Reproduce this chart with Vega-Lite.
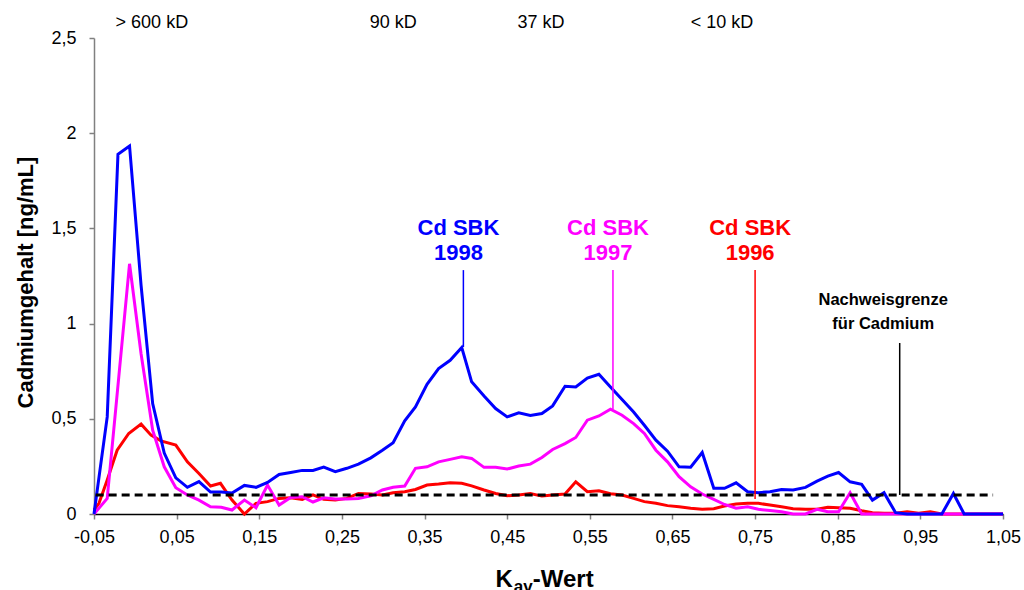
{
  "$schema": "https://vega.github.io/schema/vega-lite/v6.json",
  "width": 909,
  "height": 476,
  "autosize": {"type": "none"},
  "padding": {"left": 94, "top": 38, "right": 21, "bottom": 76},
  "background": "white",
  "config": {
    "view": {"stroke": null},
    "font": "Liberation Sans",
    "text": {"font": "Liberation Sans"}
  },
  "datasets": {
    "series": [
      {"k": -0.05, "v": 0.021, "s": "1996"}, {"k": -0.044, "v": 0.056, "s": "1996"}, {"k": -0.034, "v": 0.178, "s": "1996"}, {"k": -0.022, "v": 0.335, "s": "1996"}, {"k": -0.008, "v": 0.423, "s": "1996"}, {"k": 0.007, "v": 0.472, "s": "1996"}, {"k": 0.019, "v": 0.414, "s": "1996"}, {"k": 0.031, "v": 0.384, "s": "1996"}, {"k": 0.049, "v": 0.362, "s": "1996"}, {"k": 0.063, "v": 0.274, "s": "1996"}, {"k": 0.077, "v": 0.213, "s": "1996"}, {"k": 0.091, "v": 0.147, "s": "1996"}, {"k": 0.103, "v": 0.161, "s": "1996"}, {"k": 0.117, "v": 0.073, "s": "1996"}, {"k": 0.132, "v": 0, "s": "1996"}, {"k": 0.146, "v": 0.056, "s": "1996"}, {"k": 0.16, "v": 0.065, "s": "1996"}, {"k": 0.174, "v": 0.082, "s": "1996"}, {"k": 0.188, "v": 0.085, "s": "1996"}, {"k": 0.202, "v": 0.077, "s": "1996"}, {"k": 0.215, "v": 0.1, "s": "1996"}, {"k": 0.228, "v": 0.077, "s": "1996"}, {"k": 0.242, "v": 0.073, "s": "1996"}, {"k": 0.256, "v": 0.082, "s": "1996"}, {"k": 0.27, "v": 0.108, "s": "1996"}, {"k": 0.285, "v": 0.105, "s": "1996"}, {"k": 0.299, "v": 0.1, "s": "1996"}, {"k": 0.312, "v": 0.112, "s": "1996"}, {"k": 0.326, "v": 0.117, "s": "1996"}, {"k": 0.339, "v": 0.129, "s": "1996"}, {"k": 0.353, "v": 0.152, "s": "1996"}, {"k": 0.367, "v": 0.157, "s": "1996"}, {"k": 0.381, "v": 0.164, "s": "1996"}, {"k": 0.395, "v": 0.161, "s": "1996"}, {"k": 0.407, "v": 0.148, "s": "1996"}, {"k": 0.422, "v": 0.126, "s": "1996"}, {"k": 0.436, "v": 0.108, "s": "1996"}, {"k": 0.45, "v": 0.096, "s": "1996"}, {"k": 0.464, "v": 0.1, "s": "1996"}, {"k": 0.478, "v": 0.108, "s": "1996"}, {"k": 0.492, "v": 0.094, "s": "1996"}, {"k": 0.505, "v": 0.1, "s": "1996"}, {"k": 0.52, "v": 0.105, "s": "1996"}, {"k": 0.533, "v": 0.169, "s": "1996"}, {"k": 0.547, "v": 0.117, "s": "1996"}, {"k": 0.561, "v": 0.122, "s": "1996"}, {"k": 0.575, "v": 0.106, "s": "1996"}, {"k": 0.589, "v": 0.1, "s": "1996"}, {"k": 0.603, "v": 0.082, "s": "1996"}, {"k": 0.616, "v": 0.065, "s": "1996"}, {"k": 0.63, "v": 0.056, "s": "1996"}, {"k": 0.644, "v": 0.044, "s": "1996"}, {"k": 0.658, "v": 0.038, "s": "1996"}, {"k": 0.672, "v": 0.03, "s": "1996"}, {"k": 0.686, "v": 0.025, "s": "1996"}, {"k": 0.7, "v": 0.028, "s": "1996"}, {"k": 0.713, "v": 0.042, "s": "1996"}, {"k": 0.727, "v": 0.052, "s": "1996"}, {"k": 0.741, "v": 0.056, "s": "1996"}, {"k": 0.754, "v": 0.056, "s": "1996"}, {"k": 0.768, "v": 0.047, "s": "1996"}, {"k": 0.782, "v": 0.038, "s": "1996"}, {"k": 0.796, "v": 0.028, "s": "1996"}, {"k": 0.811, "v": 0.025, "s": "1996"}, {"k": 0.825, "v": 0.025, "s": "1996"}, {"k": 0.838, "v": 0.035, "s": "1996"}, {"k": 0.851, "v": 0.033, "s": "1996"}, {"k": 0.865, "v": 0.03, "s": "1996"}, {"k": 0.879, "v": 0.017, "s": "1996"}, {"k": 0.892, "v": 0.007, "s": "1996"}, {"k": 0.906, "v": 0.004, "s": "1996"}, {"k": 0.92, "v": 0.004, "s": "1996"}, {"k": 0.934, "v": 0.012, "s": "1996"}, {"k": 0.948, "v": 0.004, "s": "1996"}, {"k": 0.962, "v": 0.012, "s": "1996"}, {"k": 0.976, "v": 0, "s": "1996"}, {"k": 1.05, "v": 0, "s": "1996"},

      {"k": -0.05, "v": 0, "s": "1997"}, {"k": -0.034, "v": 0.082, "s": "1997"}, {"k": -0.02, "v": 0.72, "s": "1997"}, {"k": -0.007, "v": 1.314, "s": "1997"}, {"k": 0.007, "v": 0.84, "s": "1997"}, {"k": 0.021, "v": 0.44, "s": "1997"}, {"k": 0.035, "v": 0.248, "s": "1997"}, {"k": 0.049, "v": 0.138, "s": "1997"}, {"k": 0.063, "v": 0.1, "s": "1997"}, {"k": 0.077, "v": 0.073, "s": "1997"}, {"k": 0.091, "v": 0.038, "s": "1997"}, {"k": 0.104, "v": 0.035, "s": "1997"}, {"k": 0.117, "v": 0.021, "s": "1997"}, {"k": 0.132, "v": 0.073, "s": "1997"}, {"k": 0.146, "v": 0.033, "s": "1997"}, {"k": 0.16, "v": 0.152, "s": "1997"}, {"k": 0.174, "v": 0.047, "s": "1997"}, {"k": 0.188, "v": 0.087, "s": "1997"}, {"k": 0.202, "v": 0.091, "s": "1997"}, {"k": 0.215, "v": 0.063, "s": "1997"}, {"k": 0.228, "v": 0.085, "s": "1997"}, {"k": 0.242, "v": 0.079, "s": "1997"}, {"k": 0.256, "v": 0.079, "s": "1997"}, {"k": 0.27, "v": 0.082, "s": "1997"}, {"k": 0.285, "v": 0.096, "s": "1997"}, {"k": 0.299, "v": 0.126, "s": "1997"}, {"k": 0.312, "v": 0.14, "s": "1997"}, {"k": 0.326, "v": 0.147, "s": "1997"}, {"k": 0.339, "v": 0.24, "s": "1997"}, {"k": 0.353, "v": 0.248, "s": "1997"}, {"k": 0.367, "v": 0.274, "s": "1997"}, {"k": 0.381, "v": 0.287, "s": "1997"}, {"k": 0.395, "v": 0.3, "s": "1997"}, {"k": 0.407, "v": 0.292, "s": "1997"}, {"k": 0.422, "v": 0.245, "s": "1997"}, {"k": 0.436, "v": 0.245, "s": "1997"}, {"k": 0.45, "v": 0.236, "s": "1997"}, {"k": 0.464, "v": 0.252, "s": "1997"}, {"k": 0.478, "v": 0.262, "s": "1997"}, {"k": 0.492, "v": 0.297, "s": "1997"}, {"k": 0.505, "v": 0.339, "s": "1997"}, {"k": 0.52, "v": 0.37, "s": "1997"}, {"k": 0.533, "v": 0.402, "s": "1997"}, {"k": 0.547, "v": 0.493, "s": "1997"}, {"k": 0.561, "v": 0.515, "s": "1997"}, {"k": 0.575, "v": 0.55, "s": "1997"}, {"k": 0.589, "v": 0.519, "s": "1997"}, {"k": 0.603, "v": 0.475, "s": "1997"}, {"k": 0.616, "v": 0.423, "s": "1997"}, {"k": 0.63, "v": 0.335, "s": "1997"}, {"k": 0.644, "v": 0.274, "s": "1997"}, {"k": 0.658, "v": 0.196, "s": "1997"}, {"k": 0.672, "v": 0.143, "s": "1997"}, {"k": 0.686, "v": 0.105, "s": "1997"}, {"k": 0.7, "v": 0.077, "s": "1997"}, {"k": 0.713, "v": 0.05, "s": "1997"}, {"k": 0.727, "v": 0.03, "s": "1997"}, {"k": 0.741, "v": 0.038, "s": "1997"}, {"k": 0.754, "v": 0.025, "s": "1997"}, {"k": 0.768, "v": 0.018, "s": "1997"}, {"k": 0.782, "v": 0.012, "s": "1997"}, {"k": 0.796, "v": 0, "s": "1997"}, {"k": 0.811, "v": 0, "s": "1997"}, {"k": 0.825, "v": 0.025, "s": "1997"}, {"k": 0.838, "v": 0.012, "s": "1997"}, {"k": 0.851, "v": 0.012, "s": "1997"}, {"k": 0.865, "v": 0.112, "s": "1997"}, {"k": 0.879, "v": 0, "s": "1997"}, {"k": 1.05, "v": 0, "s": "1997"},

      {"k": -0.05, "v": 0, "s": "1998"}, {"k": -0.034, "v": 0.51, "s": "1998"}, {"k": -0.021, "v": 1.889, "s": "1998"}, {"k": -0.007, "v": 1.933, "s": "1998"}, {"k": 0.007, "v": 1.2, "s": "1998"}, {"k": 0.021, "v": 0.58, "s": "1998"}, {"k": 0.035, "v": 0.32, "s": "1998"}, {"k": 0.049, "v": 0.19, "s": "1998"}, {"k": 0.063, "v": 0.14, "s": "1998"}, {"k": 0.077, "v": 0.17, "s": "1998"}, {"k": 0.091, "v": 0.115, "s": "1998"}, {"k": 0.104, "v": 0.115, "s": "1998"}, {"k": 0.117, "v": 0.11, "s": "1998"}, {"k": 0.132, "v": 0.15, "s": "1998"}, {"k": 0.146, "v": 0.14, "s": "1998"}, {"k": 0.16, "v": 0.166, "s": "1998"}, {"k": 0.174, "v": 0.208, "s": "1998"}, {"k": 0.188, "v": 0.218, "s": "1998"}, {"k": 0.202, "v": 0.229, "s": "1998"}, {"k": 0.215, "v": 0.229, "s": "1998"}, {"k": 0.228, "v": 0.246, "s": "1998"}, {"k": 0.242, "v": 0.222, "s": "1998"}, {"k": 0.256, "v": 0.24, "s": "1998"}, {"k": 0.27, "v": 0.262, "s": "1998"}, {"k": 0.285, "v": 0.295, "s": "1998"}, {"k": 0.299, "v": 0.335, "s": "1998"}, {"k": 0.312, "v": 0.374, "s": "1998"}, {"k": 0.326, "v": 0.489, "s": "1998"}, {"k": 0.339, "v": 0.562, "s": "1998"}, {"k": 0.353, "v": 0.681, "s": "1998"}, {"k": 0.367, "v": 0.764, "s": "1998"}, {"k": 0.381, "v": 0.807, "s": "1998"}, {"k": 0.395, "v": 0.874, "s": "1998"}, {"k": 0.407, "v": 0.694, "s": "1998"}, {"k": 0.422, "v": 0.62, "s": "1998"}, {"k": 0.436, "v": 0.554, "s": "1998"}, {"k": 0.45, "v": 0.51, "s": "1998"}, {"k": 0.464, "v": 0.531, "s": "1998"}, {"k": 0.478, "v": 0.517, "s": "1998"}, {"k": 0.492, "v": 0.528, "s": "1998"}, {"k": 0.505, "v": 0.568, "s": "1998"}, {"k": 0.52, "v": 0.671, "s": "1998"}, {"k": 0.533, "v": 0.667, "s": "1998"}, {"k": 0.547, "v": 0.714, "s": "1998"}, {"k": 0.561, "v": 0.734, "s": "1998"}, {"k": 0.575, "v": 0.667, "s": "1998"}, {"k": 0.589, "v": 0.601, "s": "1998"}, {"k": 0.603, "v": 0.536, "s": "1998"}, {"k": 0.616, "v": 0.466, "s": "1998"}, {"k": 0.63, "v": 0.388, "s": "1998"}, {"k": 0.644, "v": 0.33, "s": "1998"}, {"k": 0.658, "v": 0.248, "s": "1998"}, {"k": 0.672, "v": 0.246, "s": "1998"}, {"k": 0.686, "v": 0.323, "s": "1998"}, {"k": 0.7, "v": 0.135, "s": "1998"}, {"k": 0.713, "v": 0.135, "s": "1998"}, {"k": 0.727, "v": 0.164, "s": "1998"}, {"k": 0.741, "v": 0.117, "s": "1998"}, {"k": 0.754, "v": 0.112, "s": "1998"}, {"k": 0.768, "v": 0.117, "s": "1998"}, {"k": 0.782, "v": 0.129, "s": "1998"}, {"k": 0.796, "v": 0.126, "s": "1998"}, {"k": 0.811, "v": 0.14, "s": "1998"}, {"k": 0.825, "v": 0.173, "s": "1998"}, {"k": 0.838, "v": 0.199, "s": "1998"}, {"k": 0.851, "v": 0.218, "s": "1998"}, {"k": 0.865, "v": 0.169, "s": "1998"}, {"k": 0.879, "v": 0.156, "s": "1998"}, {"k": 0.892, "v": 0.073, "s": "1998"}, {"k": 0.906, "v": 0.112, "s": "1998"}, {"k": 0.92, "v": 0.007, "s": "1998"}, {"k": 0.934, "v": 0, "s": "1998"}, {"k": 0.976, "v": 0, "s": "1998"}, {"k": 0.99, "v": 0.108, "s": "1998"}, {"k": 1.003, "v": 0, "s": "1998"}, {"k": 1.05, "v": 0, "s": "1998"}
    ],
    "cdlabels": [
      {"t": "Cd SBK", "k": 0.391, "v": 1.465, "s": "1998"},
      {"t": "1998", "k": 0.391, "v": 1.334, "s": "1998"},
      {"t": "Cd SBK", "k": 0.572, "v": 1.465, "s": "1997"},
      {"t": "1997", "k": 0.572, "v": 1.334, "s": "1997"},
      {"t": "Cd SBK", "k": 0.744, "v": 1.465, "s": "1996"},
      {"t": "1996", "k": 0.744, "v": 1.334, "s": "1996"}
    ],
    "nwglabels": [
      {"t": "Nachweisgrenze", "k": 0.905, "v": 1.098, "s": "NWG"},
      {"t": "für Cadmium", "k": 0.905, "v": 0.97, "s": "NWG"}
    ],
    "pointers": [
      {"k": 0.397, "v": 1.281, "v2": 0.877, "s": "1998"},
      {"k": 0.578, "v": 1.281, "v2": 0.55, "s": "1997"},
      {"k": 0.75, "v": 1.281, "v2": 0.079, "s": "1996"},
      {"k": 0.925, "v": 0.898, "v2": 0.1, "s": "NWG"}
    ],
    "limit": [{"k": -0.048, "k2": 1.038, "v": 0.1}],
    "sizes": [
      {"t": "> 600 kD", "k": 0.02},
      {"t": "90 kD", "k": 0.312},
      {"t": "37 kD", "k": 0.491},
      {"t": "< 10 kD", "k": 0.71}
    ]
  },
  "layer": [
    {
      "data": {"name": "series"},
      "mark": {"type": "line", "strokeWidth": 3},
      "encoding": {
        "x": {
          "field": "k", "type": "quantitative",
          "scale": {"domain": [-0.05, 1.05], "nice": false, "zero": false},
          "axis": {
            "title": null,
            "values": [-0.05, 0.05, 0.15, 0.25, 0.35, 0.45, 0.55, 0.65, 0.75, 0.85, 0.95, 1.05],
            "labelExpr": "replace(replace(format(datum.value, '.2f'), '.', ','), '\u2212', '-')",
            "labelFont": "Liberation Sans", "labelFontSize": 18, "labelColor": "#000000",
            "labelPadding": 9, "tickSize": 5, "tickColor": "#808080", "tickWidth": 1.5,
            "domainColor": "#000000", "domainWidth": 1.5, "grid": false, "labelFlush": false, "labelOverlap": false
          }
        },
        "y": {
          "field": "v", "type": "quantitative",
          "scale": {"domain": [0, 2.5], "nice": false},
          "axis": {
            "title": "Cadmiumgehalt [ng/mL]",
            "titleFont": "Liberation Sans", "titleFontSize": 22, "titleFontWeight": "bold", "titleColor": "#000000",
            "titleAngle": -90, "titleX": -62, "titleY": 244, "titleAlign": "center", "titleBaseline": "alphabetic",
            "values": [0, 0.5, 1, 1.5, 2, 2.5],
            "labelExpr": "replace(format(datum.value, '~g'), '.', ',')",
            "labelFont": "Liberation Sans", "labelFontSize": 18, "labelColor": "#000000",
            "labelPadding": 13, "tickSize": 5, "tickColor": "#808080", "tickWidth": 1.5,
            "domainColor": "#808080", "domainWidth": 1.5, "grid": false, "labelFlush": false, "labelOverlap": false
          }
        },
        "color": {
          "field": "s", "type": "nominal",
          "scale": {"domain": ["1996", "1997", "1998", "NWG"], "range": ["#FF0000", "#FF00FF", "#0000FF", "#000000"]},
          "legend": null
        }
      }
    },
    {
      "data": {"name": "limit"},
      "mark": {"type": "rule", "strokeWidth": 3, "strokeDash": [8, 5], "color": "#000000"},
      "encoding": {
        "x": {"field": "k", "type": "quantitative"},
        "x2": {"field": "k2"},
        "y": {"field": "v", "type": "quantitative"}
      }
    },
    {
      "data": {"name": "pointers"},
      "mark": {"type": "rule", "strokeWidth": 1.5},
      "encoding": {
        "x": {"field": "k", "type": "quantitative"},
        "y": {"field": "v", "type": "quantitative"},
        "y2": {"field": "v2"},
        "color": {"field": "s", "type": "nominal", "legend": null}
      }
    },
    {
      "data": {"name": "cdlabels"},
      "mark": {"type": "text", "fontSize": 22, "fontWeight": "bold", "align": "center", "baseline": "alphabetic"},
      "encoding": {
        "x": {"field": "k", "type": "quantitative"},
        "y": {"field": "v", "type": "quantitative"},
        "text": {"field": "t"},
        "color": {"field": "s", "type": "nominal", "legend": null}
      }
    },
    {
      "data": {"name": "nwglabels"},
      "mark": {"type": "text", "fontSize": 16.5, "fontWeight": "bold", "align": "center", "baseline": "alphabetic"},
      "encoding": {
        "x": {"field": "k", "type": "quantitative"},
        "y": {"field": "v", "type": "quantitative"},
        "text": {"field": "t"},
        "color": {"field": "s", "type": "nominal", "legend": null}
      }
    },
    {
      "data": {"name": "sizes"},
      "mark": {"type": "text", "fontSize": 18, "align": "center", "baseline": "alphabetic", "color": "#000000"},
      "encoding": {
        "x": {"field": "k", "type": "quantitative"},
        "y": {"datum": 2.553, "type": "quantitative"},
        "text": {"field": "t"}
      }
    },
    {
      "data": {"values": [{"t": "K"}]},
      "mark": {"type": "text", "fontSize": 24, "fontWeight": "bold", "align": "left", "baseline": "alphabetic", "color": "#000000"},
      "encoding": {
        "x": {"datum": 0.436, "type": "quantitative"},
        "y": {"datum": -0.383, "type": "quantitative"},
        "text": {"field": "t"}
      }
    },
    {
      "data": {"values": [{"t": "av"}]},
      "mark": {"type": "text", "fontSize": 17, "fontWeight": "bold", "align": "left", "baseline": "alphabetic", "color": "#000000"},
      "encoding": {
        "x": {"datum": 0.458, "type": "quantitative"},
        "y": {"datum": -0.41, "type": "quantitative"},
        "text": {"field": "t"}
      }
    },
    {
      "data": {"values": [{"t": "-Wert"}]},
      "mark": {"type": "text", "fontSize": 24, "fontWeight": "bold", "align": "left", "baseline": "alphabetic", "color": "#000000"},
      "encoding": {
        "x": {"datum": 0.481, "type": "quantitative"},
        "y": {"datum": -0.383, "type": "quantitative"},
        "text": {"field": "t"}
      }
    }
  ]
}
